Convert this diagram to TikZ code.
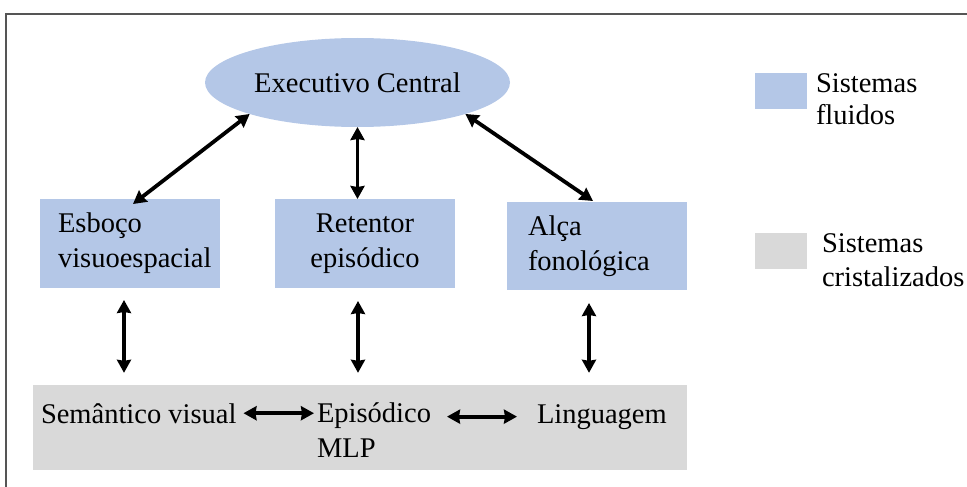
\documentclass[tikz,border=0pt]{standalone}
\usepackage{fontspec}
\setmainfont{Liberation Serif}
\usetikzlibrary{shapes.geometric,arrows.meta,calc}
\definecolor{fluid}{HTML}{B4C7E7}
\definecolor{crystal}{HTML}{D9D9D9}
\definecolor{framegray}{HTML}{555555}
\tikzset{
  txt/.style={inner sep=0pt, outer sep=0pt, font=\fontsize{28.5}{35}\selectfont},
  fluidbox/.style={txt, fill=fluid, minimum width=180pt, minimum height=89pt},
  dbl/.style={line width=3.8pt, {Stealth[length=13pt,width=14pt,inset=1pt]}-{Stealth[length=13pt,width=14pt,inset=1pt]}},
  legendbox/.style={minimum width=52pt, minimum height=36pt, inner sep=0pt},
}
\begin{document}
\begin{tikzpicture}[x=1pt,y=-1pt]
\useasboundingbox (0,0) rectangle (967,487);
% open frame along the top and left
\draw[framegray, line width=1.5pt] (6,487) -- (6,14) -- (967,14);

% central executive
\node[txt, ellipse, fill=fluid, minimum width=305pt, minimum height=89pt] (ec) at (357.5,82.5) {Executivo Central};

% fluid subsystems
\node[fluidbox, text width=144pt, align=left] (esb) at (130,243.5) {Esboço\\visuoespacial};
\node[fluidbox, text width=150pt, align=center] (ret) at (365,243.5) {Retentor\\episódico};
\node[fluidbox, text width=138pt, align=left, minimum height=88pt] (alca) at (597,246) {Alça\\fonológica};

% crystallized systems
\node[fill=crystal, minimum width=654pt, minimum height=85pt, inner sep=0pt] (ltm) at (360,427.5) {};
\node[txt, anchor=base west] (sv) at (41,423) {Semântico visual};
\node[txt, anchor=west, align=left] (ep) at (317,430) {Episódico\\MLP};
\node[txt, anchor=base west] (lg) at (537,423) {Linguagem};

% links to the central executive
\draw[dbl] (ec.south west) -- ([shift={(3,5)}]esb.north);
\draw[dbl] (ec.south) -- (ec.south |- ret.north);
\draw[dbl] (ec.south east) -- ([shift={(-4,-1)}]alca.north);

% links down to long-term memory
\draw[dbl, shorten <=12pt, shorten >=12pt] ([xshift=-6pt]esb.south) -- ([xshift=-6pt]esb.south |- ltm.north);
\draw[dbl, shorten <=13pt, shorten >=12pt] ([xshift=-7pt]ret.south) -- ([xshift=-7pt]ret.south |- ltm.north);
\draw[dbl, shorten <=13pt, shorten >=12pt] ([xshift=-8pt]alca.south) -- ([xshift=-8pt]alca.south |- ltm.north);

% links inside long-term memory
\draw[dbl, shorten <=7pt, shorten >=3pt] (sv.east) -- (sv.east -| ep.west);
\draw[dbl, shorten <=16pt, shorten >=20pt] (ep.east |- lg.west) -- (lg.west);

% legend
\node[legendbox, fill=fluid] (lf) at (781,91) {};
\node[txt, anchor=west, align=left, font=\fontsize{28.5}{32}\selectfont] (lft) at (816,99.5) {Sistemas\\fluidos};
\node[legendbox, fill=crystal] (lc) at (781,251) {};
\node[txt, anchor=west, align=left, font=\fontsize{28.5}{34}\selectfont] (lct) at (822,260.5) {Sistemas\\cristalizados};
\end{tikzpicture}
\end{document}
